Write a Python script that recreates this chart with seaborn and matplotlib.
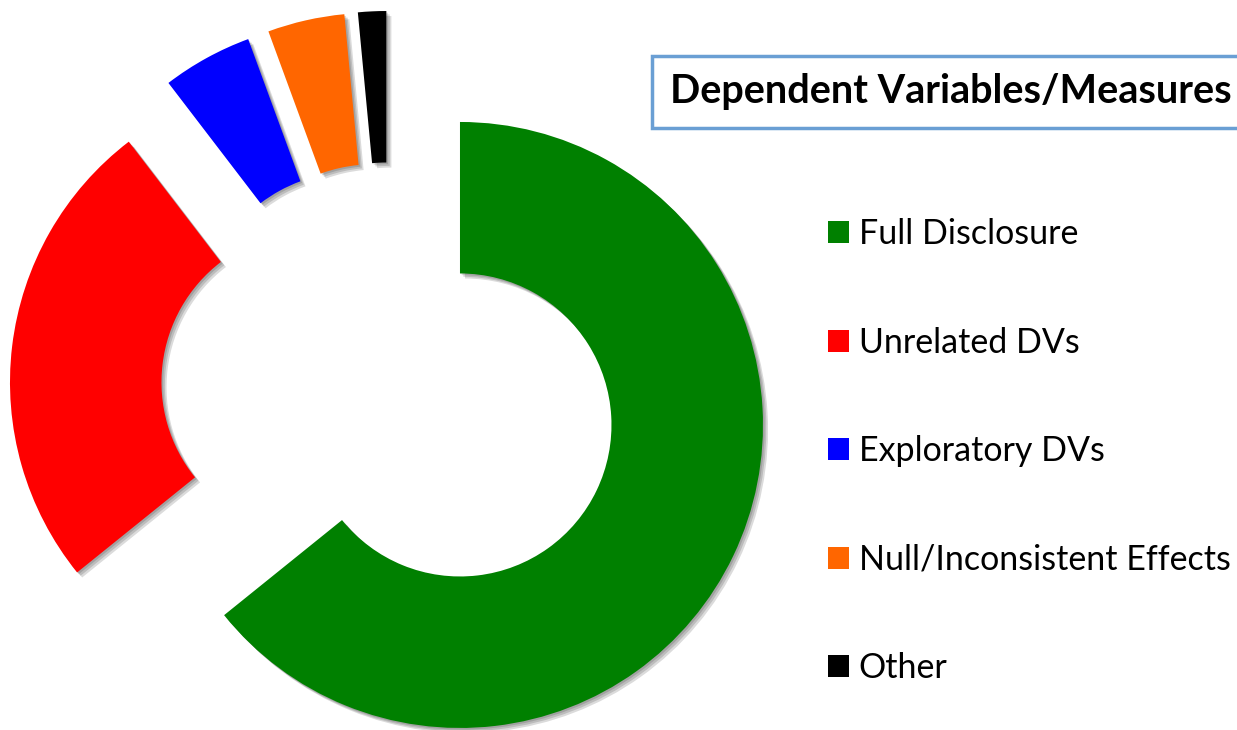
import matplotlib.pyplot as plt
import matplotlib.patches as mpatches
import seaborn as sns

# values (percent of papers)
categories = ['Full Disclosure', 'Unrelated DVs', 'Exploratory DVs',
              'Null/Inconsistent Effects', 'Other']
shares = [64.2, 25.4, 4.8, 4.1, 1.5]
colors = ['#008000', '#FF0000', '#0000FF', '#FF6600', '#000000']

sns.set_theme(style='white')
plt.rcParams['font.family'] = ['Lato', 'DejaVu Sans']

W, H = 1237, 730
fig = plt.figure(figsize=(W / 100, H / 100), dpi=100)
ax = fig.add_axes([0, 0, 1, 1])

# donut with every slice pulled out
wedges, _ = ax.pie(shares, colors=colors, startangle=90, counterclock=False,
                   explode=[0.256] * len(shares),
                   wedgeprops=dict(width=0.5, linewidth=0))

# soft grey drop shadow to the lower right
for w in wedges:
    w.set_zorder(3)
    for k in (0.004, 0.008, 0.012):
        sh = mpatches.Shadow(w, k, -k, facecolor='black', edgecolor='none',
                             alpha=0.14)
        sh.set_zorder(2)
        ax.add_patch(sh)

# pixel-exact placement of the donut
scale = 303.0
cx, cy = 390.0, 391.5
ax.set_xlim(-cx / scale, (W - cx) / scale)
ax.set_ylim((cy - H) / scale, cy / scale)
ax.set_aspect('equal')
ax.axis('off')

# legend
leg = fig.legend(wedges, categories, loc='upper left',
                 bbox_to_anchor=(828 / W, 1 - 218 / H),
                 frameon=False, fontsize=24.5, labelcolor='black',
                 handlelength=0.62, handleheight=0.62, handletextpad=0.28,
                 labelspacing=2.25, borderpad=0, borderaxespad=0)

# boxed title
fig.text(670 / W, 1 - 92 / H, 'Dependent Variables/Measures', fontsize=28.5,
         fontweight='bold', color='black', ha='left', va='center',
         bbox=dict(boxstyle='square,pad=0.45', fc='white', ec='#6A9FD4',
                   lw=2.5))

fig.savefig('out.png', dpi=100)
